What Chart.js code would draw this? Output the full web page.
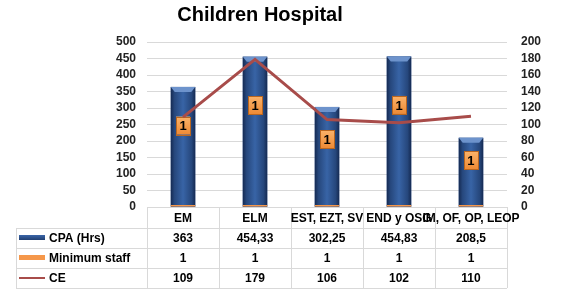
<!DOCTYPE html>
<html>
<head>
<meta charset="utf-8">
<script src="https://cdn.jsdelivr.net/npm/chart.js@4/dist/chart.umd.min.js"></script>
<style>
  html, body { margin: 0; padding: 0; background: #fff; }
  #wrap { width: 567px; height: 295px; }
</style>
</head>
<body>
<div id="wrap"><canvas id="c" width="567" height="295"></canvas></div>
<script>
const categories = ['EM', 'ELM', 'EST, EZT, SV', 'END y OSG', 'IM, OF, OP, LEOP'];
const cpaHrs = [363, 454.33, 302.25, 454.83, 208.5];
const cpaText = ['363', '454,33', '302,25', '454,83', '208,5'];
const minimumStaff = [1, 1, 1, 1, 1];
const ce = [109, 179, 106, 102, 110];
const seriesNames = ['CPA (Hrs)', 'Minimum staff', 'CE'];
const leftTicks = [0, 50, 100, 150, 200, 250, 300, 350, 400, 450, 500];
const rightTicks = [0, 20, 40, 60, 80, 100, 120, 140, 160, 180, 200];
const titleText = 'Children Hospital';

const FONT = '"Liberation Sans", Arial, sans-serif';
const BLUE = '#2e5596';
const ORANGE = '#f5974a';
const CE_COLOR = '#a84c4a';
const GRID = '#d9d9d9';

const titlePlugin = {
  id: 'titleText',
  afterDraw(chart) {
    const ctx = chart.ctx;
    ctx.save();
    ctx.font = 'bold 20px ' + FONT;
    ctx.fillStyle = '#000';
    ctx.textAlign = 'center';
    ctx.textBaseline = 'alphabetic';
    ctx.fillText(titleText, 260, 21);
    ctx.restore();
  }
};

const barStylePlugin = {
  id: 'barStyle',
  afterDatasetDraw(chart, args) {
    const ctx = chart.ctx;
    if (args.index === 0) {
      ctx.save();
      args.meta.data.forEach(bar => {
        const p = bar.getProps(['x', 'y', 'base', 'width'], true);
        const l = p.x - p.width / 2, r = p.x + p.width / 2;
        const g = ctx.createLinearGradient(l, 0, r, 0);
        g.addColorStop(0, '#152a52');
        g.addColorStop(0.15, '#26477c');
        g.addColorStop(0.5, '#3864a6');
        g.addColorStop(0.85, '#26477c');
        g.addColorStop(1, '#152a52');
        ctx.fillStyle = g;
        ctx.fillRect(l, p.y, p.width, p.base - p.y);
        ctx.fillStyle = '#6d93cc';
        ctx.beginPath();
        ctx.moveTo(l, p.y);
        ctx.lineTo(r, p.y);
        ctx.lineTo(r - 4, p.y + 5);
        ctx.lineTo(l + 4, p.y + 5);
        ctx.closePath();
        ctx.fill();
      });
      ctx.restore();
    }
    if (args.index === 1) {
      const cpaMeta = chart.getDatasetMeta(0);
      const yScale = chart.scales.y;
      ctx.save();
      cpaMeta.data.forEach((bar, i) => {
        const x = bar.x;
        const y = yScale.getPixelForValue(cpaHrs[i] * 0.68);
        const w = 14, h = 18;
        const g = ctx.createLinearGradient(0, y - h / 2, 0, y + h / 2);
        g.addColorStop(0, '#fbb36a');
        g.addColorStop(1, '#ee8a35');
        ctx.fillStyle = g;
        ctx.fillRect(x - w / 2, y - h / 2, w, h);
        ctx.strokeStyle = '#b9661f';
        ctx.lineWidth = 1;
        ctx.strokeRect(Math.round(x - w / 2) + 0.5, Math.round(y - h / 2) + 0.5, w, h);
        ctx.fillStyle = '#000';
        ctx.font = 'bold 13px ' + FONT;
        ctx.textAlign = 'center';
        ctx.textBaseline = 'middle';
        ctx.fillText(String(minimumStaff[i]), x, y + 1);
      });
      ctx.restore();
    }
  }
};

const tablePlugin = {
  id: 'dataTable',
  afterDraw(chart) {
    const ctx = chart.ctx;
    const xs = chart.scales.x;
    const area = chart.chartArea;
    const step = xs.getPixelForValue(1) - xs.getPixelForValue(0);
    const top = area.bottom;
    const headH = 21, rowH = 20;
    const leftEdge = 16;
    const rowsTop = top + headH;
    const bottom = rowsTop + 3 * rowH;
    const px = v => Math.round(v) + 0.5;
    ctx.save();
    ctx.strokeStyle = GRID;
    ctx.lineWidth = 1;
    ctx.beginPath();
    ctx.moveTo(area.left, px(top)); ctx.lineTo(area.right, px(top));
    for (let r = 0; r <= 3; r++) {
      const y = px(rowsTop + r * rowH);
      ctx.moveTo(leftEdge, y); ctx.lineTo(area.right, y);
    }
    ctx.moveTo(px(leftEdge), rowsTop); ctx.lineTo(px(leftEdge), bottom);
    for (let i = 0; i <= categories.length; i++) {
      const x = px(xs.getPixelForValue(0) - step / 2 + i * step);
      ctx.moveTo(x, top); ctx.lineTo(x, bottom);
    }
    ctx.stroke();

    ctx.fillStyle = '#000';
    ctx.font = 'bold 12px ' + FONT;
    ctx.textAlign = 'center';
    ctx.textBaseline = 'middle';
    categories.forEach((c, i) => {
      ctx.fillText(c, xs.getPixelForValue(i), top + headH / 2 + 1);
    });
    const rowsData = [cpaText, minimumStaff.map(String), ce.map(String)];
    rowsData.forEach((row, r) => {
      row.forEach((t, i) => {
        ctx.fillText(t, xs.getPixelForValue(i), rowsTop + r * rowH + rowH / 2 + 1);
      });
    });
    ctx.textAlign = 'left';
    seriesNames.forEach((n, r) => {
      const cy = rowsTop + r * rowH + rowH / 2;
      if (r === 0) {
        const g = ctx.createLinearGradient(0, cy - 3, 0, cy + 3);
        g.addColorStop(0, '#3a66a9'); g.addColorStop(1, '#1d3866');
        ctx.fillStyle = g;
        ctx.fillRect(19, cy - 3, 26, 5);
      } else if (r === 1) {
        ctx.fillStyle = ORANGE;
        ctx.fillRect(19, cy - 3, 26, 5);
      } else {
        ctx.strokeStyle = CE_COLOR;
        ctx.lineWidth = 2;
        ctx.beginPath();
        ctx.moveTo(19, cy); ctx.lineTo(45, cy);
        ctx.stroke();
      }
      ctx.fillStyle = '#000';
      ctx.fillText(n, 49, cy + 1);
    });
    ctx.restore();
  }
};

new Chart(document.getElementById('c'), {
  data: {
    labels: categories,
    datasets: [
      {
        type: 'bar', label: seriesNames[0], data: cpaHrs, yAxisID: 'y',
        backgroundColor: BLUE, order: 2, barPercentage: 0.34, categoryPercentage: 1
      },
      {
        type: 'bar', label: seriesNames[1], data: minimumStaff, yAxisID: 'y',
        backgroundColor: ORANGE, order: 1, minBarLength: 2, barPercentage: 0.34, categoryPercentage: 1
      },
      {
        type: 'line', label: seriesNames[2], data: ce, yAxisID: 'y2',
        borderColor: CE_COLOR, borderWidth: 3, pointRadius: 0, tension: 0, order: 0, fill: false
      }
    ]
  },
  options: {
    responsive: false,
    animation: false,
    layout: { padding: { left: 105, right: 12, top: 42, bottom: 88 } },
    plugins: { legend: { display: false }, tooltip: { enabled: false }, title: { display: false } },
    scales: {
      x: { display: false, stacked: true, offset: true },
      y: {
        position: 'left', stacked: true, min: 0, max: 500,
        afterBuildTicks: s => { s.ticks = leftTicks.map(v => ({ value: v })); },
        ticks: { font: { family: FONT, size: 12, weight: 'bold' }, color: '#222', padding: 11, autoSkip: false },
        grid: { color: GRID, drawTicks: false },
        border: { display: false }
      },
      y2: {
        position: 'right', min: 0, max: 200,
        afterBuildTicks: s => { s.ticks = rightTicks.map(v => ({ value: v })); },
        ticks: { font: { family: FONT, size: 12, weight: 'bold' }, color: '#222', padding: 14, autoSkip: false },
        grid: { drawOnChartArea: false, drawTicks: false },
        border: { display: false }
      }
    }
  },
  plugins: [barStylePlugin, tablePlugin, titlePlugin]
});
</script>
</body>
</html>
